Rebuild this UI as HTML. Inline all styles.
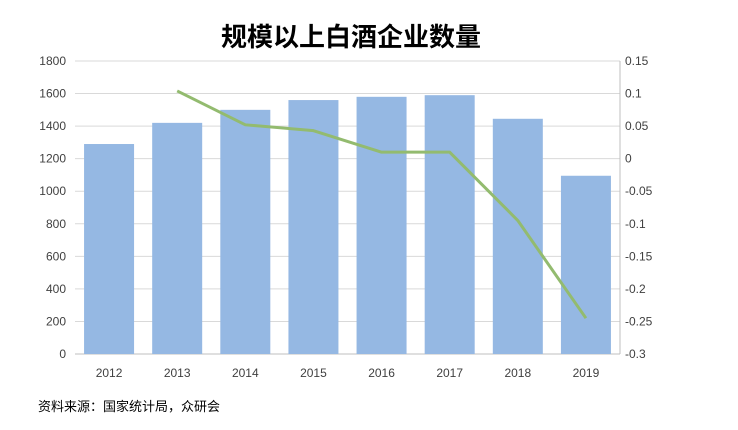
<!DOCTYPE html>
<html><head><meta charset="utf-8"><style>
body{margin:0;background:#fff;}
svg text{font-family:"Liberation Sans","Noto Sans CJK SC",sans-serif;}
</style></head><body>
<svg id="chart" width="738" height="425" viewBox="0 0 738 425">
<text x="351" y="46" text-anchor="middle" font-size="26" font-weight="bold" fill="#000">规模以上白酒企业数量</text>
<g id="grid"></g><g id="bars"></g><g id="line"></g><g id="axes"></g>
<text x="38" y="411" font-size="13" fill="#000">资料来源：国家统计局，众研会</text>
</svg>
<script>
const categories=["2012","2013","2014","2015","2016","2017","2018","2019"];
const counts=[1290,1420,1500,1560,1580,1590,1445,1095];
const growth=[null,0.104,0.052,0.043,0.01,0.01,-0.095,-0.245];
const leftTicks=[0,200,400,600,800,1000,1200,1400,1600,1800];
const rightTicks=["0.15","0.1","0.05","0","-0.05","-0.1","-0.15","-0.2","-0.25","-0.3"];
const X0=75,X1=620,Y0=354,Y1=61;
const NS="http://www.w3.org/2000/svg";
const yL=v=>Y0-(v/1800)*(Y0-Y1);
const yR=v=>Y0-((v+0.3)/0.45)*(Y0-Y1);
const bw=(X1-X0)/categories.length;
const xC=i=>X0+bw*(i+0.5);
function mk(t,a,p){const e=document.createElementNS(NS,t);for(const k in a)e.setAttribute(k,a[k]);p.appendChild(e);return e;}
const grid=document.getElementById('grid'),bars=document.getElementById('bars'),line=document.getElementById('line'),axes=document.getElementById('axes');
leftTicks.forEach(v=>{
  const g=mk('line',{x1:X0,x2:X1,y1:yL(v),y2:yL(v),stroke:v===0?'#bfbfbf':'#d9d9d9','stroke-width':1},grid);
  
  
  const t=mk('text',{x:X0-9,y:yL(v)+4,'text-anchor':'end','font-size':12,fill:'#404040'},axes);
  t.textContent=v;
  
  
});
rightTicks.forEach(s=>{
  const v=parseFloat(s);
  const t=mk('text',{x:X1+5,y:yR(v)+4,'font-size':12,fill:'#404040'},axes);
  t.textContent=s;
  
  
});
mk('line',{x1:X1,x2:X1,y1:Y1,y2:Y0,stroke:'#bfbfbf'},axes);
categories.forEach((c,i)=>{
  const r=mk('rect',{x:xC(i)-25,width:50,y:yL(counts[i]),height:Y0-yL(counts[i]),fill:'#95b8e3'},bars);
  
  
  const t=mk('text',{x:xC(i),y:377,'text-anchor':'middle','font-size':12,fill:'#404040'},axes);
  t.textContent=c;
  
  
});
let pts=[];growth.forEach((v,i)=>{if(v!==null)pts.push(xC(i)+','+yR(v));});
const pl=mk('polyline',{points:pts.join(' '),fill:'none',stroke:'#93bb6f','stroke-width':3,'stroke-linejoin':'round'},line);


</script>
</body></html>
